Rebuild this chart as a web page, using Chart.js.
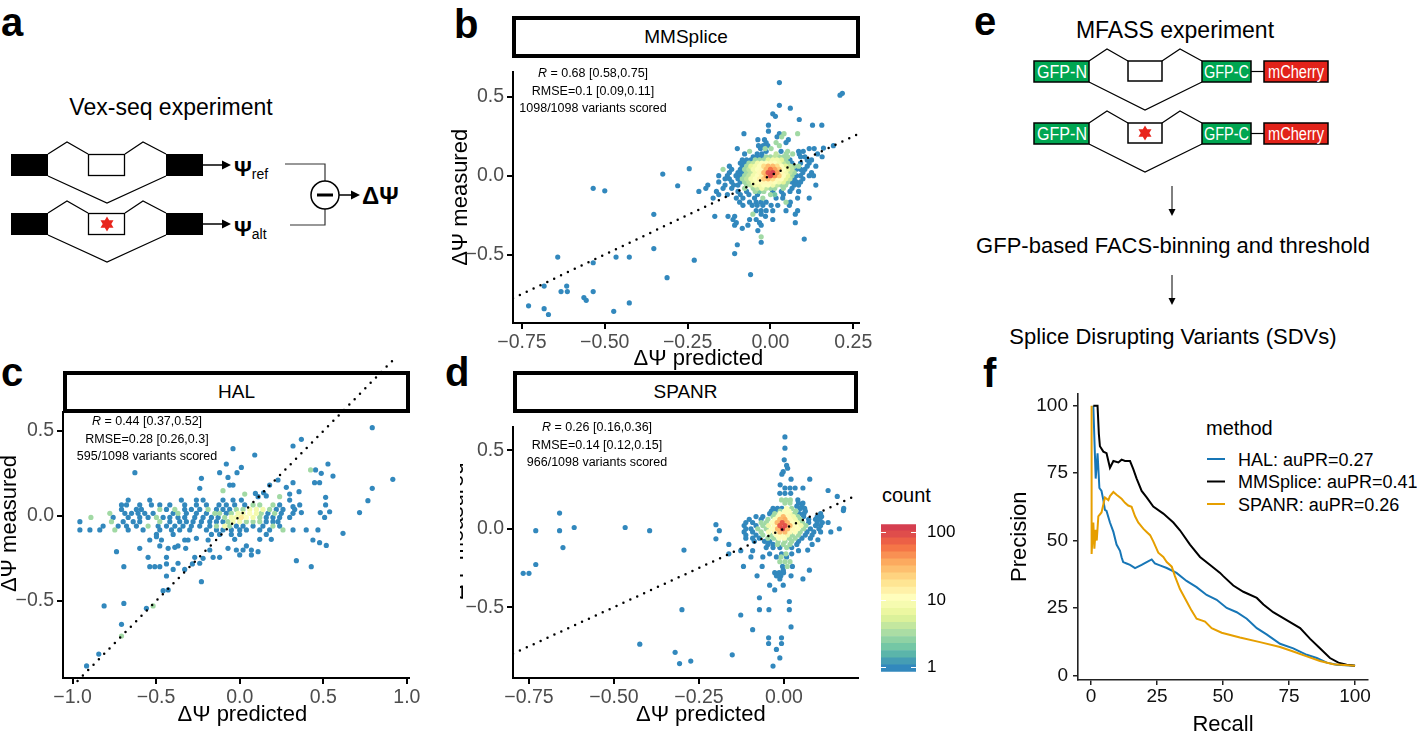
<!DOCTYPE html>
<html>
<head>
<meta charset="utf-8">
<title>Splicing variant effect benchmarks</title>
<script src="https://cdn.jsdelivr.net/npm/chart.js@4.4.1/dist/chart.umd.min.js"></script>
<style>
  html, body { margin: 0; padding: 0; background: #fff; }
  body { position: relative; width: 1417px; height: 735px; overflow: hidden;
         font-family: "Liberation Sans", Arial, Helvetica, sans-serif; color: #000; }
  svg.sheet { position: absolute; left: 0; top: 0; z-index: 0; }
  canvas { position: absolute; z-index: 1; }
  .strip { position: absolute; box-sizing: border-box; height: 42px; border: 4px solid #000; background: #fff;
           font-size: 19px; line-height: 34px; text-align: center; z-index: 3; }
  .stats { position: absolute; font-size: 12.5px; line-height: 17.5px; text-align: center; white-space: nowrap;
           transform: translateX(-50%); z-index: 4; }
</style>
</head>
<body>

<svg class="sheet" width="1417" height="735" viewBox="0 0 1417 735" font-family="'Liberation Sans', Arial, sans-serif">
  <defs>
    <polygon id="star" fill="#E8251C" points="0,-7.5 2.2,-3.8 6.5,-3.8 4.3,0 6.5,3.8 2.2,3.8 0,7.5 -2.2,3.8 -6.5,3.8 -4.3,0 -6.5,-3.8 -2.2,-3.8"/>
  </defs>

  <!-- panel letters -->
  <g font-weight="bold" font-size="40">
    <text x="1" y="36">a</text>
    <text x="454" y="38">b</text>
    <text x="1" y="386">c</text>
    <text x="445" y="386">d</text>
    <text x="974" y="35">e</text>
    <text x="983" y="387">f</text>
  </g>

  <!-- a: Vex-seq -->
  <text x="171" y="115" font-size="23" text-anchor="middle">Vex-seq experiment</text>
  <g stroke="#000" stroke-width="1.2" fill="none">
    <polyline points="48,154 67,142 88,154"/>
    <polyline points="125,154 143,142 166,154"/>
    <polyline points="48,176 107,203 166,176"/>
    <polyline points="48,213 67,201 88,213"/>
    <polyline points="125,213 143,201 166,213"/>
    <polyline points="48,235 107,262 166,235"/>
  </g>
  <rect x="11" y="154" width="37" height="22" fill="#000"/>
  <rect x="166" y="154" width="37" height="22" fill="#000"/>
  <rect x="88.5" y="154.5" width="36" height="21" fill="#fff" stroke="#000" stroke-width="1.3"/>
  <rect x="11" y="213" width="37" height="22" fill="#000"/>
  <rect x="166" y="213" width="37" height="22" fill="#000"/>
  <rect x="88.5" y="213.5" width="36" height="21" fill="#fff" stroke="#000" stroke-width="1.3"/>
  <use href="#star" x="107" y="224"/>
  <line x1="203" y1="165" x2="223" y2="165" stroke="#000" stroke-width="1.5"/>
  <polygon points="222,160.5 231,165 222,169.5"/>
  <line x1="203" y1="224" x2="223" y2="224" stroke="#000" stroke-width="1.5"/>
  <polygon points="222,219.5 231,224 222,228.5"/>
  <text x="234" y="176" font-size="22" font-weight="bold">Ψ<tspan font-size="14" font-weight="normal" dy="3">ref</tspan></text>
  <text x="234" y="236" font-size="22" font-weight="bold">Ψ<tspan font-size="14" font-weight="normal" dy="3">alt</tspan></text>
  <polyline points="285,164 325,164 325,181" stroke="#333" stroke-width="1.2" fill="none"/>
  <polyline points="325,209 325,225 290,225" stroke="#333" stroke-width="1.2" fill="none"/>
  <circle cx="325" cy="195" r="14" fill="#fff" stroke="#000" stroke-width="1.5"/>
  <line x1="317" y1="195" x2="333" y2="195" stroke="#000" stroke-width="3"/>
  <line x1="339" y1="195" x2="352" y2="195" stroke="#000" stroke-width="1.5"/>
  <polygon points="351,190.5 360,195 351,199.5"/>
  <text x="362" y="204" font-size="24" font-weight="bold">ΔΨ</text>

  <!-- e: MFASS -->
  <text x="1175" y="38" font-size="23" text-anchor="middle">MFASS experiment</text>
  <g stroke="#000" stroke-width="1.2" fill="none">
    <polyline points="1089,61 1107,49 1128,61"/>
    <polyline points="1162,61 1180,49 1202,61"/>
    <polyline points="1089,82 1145,110 1202,82"/>
    <polyline points="1089,123 1107,111 1128,123"/>
    <polyline points="1162,123 1180,111 1202,123"/>
    <polyline points="1089,144 1145,172 1202,144"/>
    <line x1="1251" y1="71.5" x2="1264" y2="71.5"/>
    <line x1="1251" y1="133.5" x2="1264" y2="133.5"/>
  </g>
  <g stroke="#000" stroke-width="1.5">
    <rect x="1034" y="61" width="55" height="21" fill="#00A651"/>
    <rect x="1128" y="61" width="34" height="20" fill="#fff"/>
    <rect x="1202" y="61" width="49" height="21" fill="#00A651"/>
    <rect x="1264" y="61" width="64" height="21" fill="#E2231A"/>
    <rect x="1034" y="123" width="55" height="21" fill="#00A651"/>
    <rect x="1128" y="123" width="34" height="20" fill="#fff"/>
    <rect x="1202" y="123" width="49" height="21" fill="#00A651"/>
    <rect x="1264" y="123" width="64" height="21" fill="#E2231A"/>
  </g>
  <g fill="#fff" font-size="18">
    <text x="1037" y="78" textLength="50" lengthAdjust="spacingAndGlyphs">GFP-N</text>
    <text x="1204" y="78" textLength="45" lengthAdjust="spacingAndGlyphs">GFP-C</text>
    <text x="1268" y="78" textLength="56" lengthAdjust="spacingAndGlyphs">mCherry</text>
    <text x="1037" y="140" textLength="50" lengthAdjust="spacingAndGlyphs">GFP-N</text>
    <text x="1204" y="140" textLength="45" lengthAdjust="spacingAndGlyphs">GFP-C</text>
    <text x="1268" y="140" textLength="56" lengthAdjust="spacingAndGlyphs">mCherry</text>
  </g>
  <use href="#star" x="1145" y="133"/>
  <line x1="1172" y1="186" x2="1172" y2="210" stroke="#000" stroke-width="1"/>
  <polygon points="1168.5,209 1175.5,209 1172,216"/>
  <text x="1173" y="253" font-size="22" text-anchor="middle">GFP-based FACS-binning and threshold</text>
  <line x1="1172" y1="275" x2="1172" y2="299" stroke="#000" stroke-width="1"/>
  <polygon points="1168.5,298 1175.5,298 1172,305"/>
  <text x="1173" y="344" font-size="22" text-anchor="middle">Splice Disrupting Variants (SDVs)</text>

  <!-- count colour bar title -->
  <text x="882" y="502" font-size="20">count</text>

  <!-- f legend -->
  <text x="1206" y="435" font-size="20">method</text>
  <g stroke-width="2">
    <line x1="1207" y1="459" x2="1225" y2="459" stroke="#1776B6"/>
    <line x1="1207" y1="481.5" x2="1225" y2="481.5" stroke="#000"/>
    <line x1="1207" y1="504" x2="1225" y2="504" stroke="#E69F00"/>
  </g>
  <g font-size="18">
    <text x="1238" y="465.5">HAL: auPR=0.27</text>
    <text x="1238" y="488">MMSplice: auPR=0.41</text>
    <text x="1238" y="510.5">SPANR: auPR=0.26</text>
  </g>
</svg>

<div class="strip" style="left:512px; top:16px; width:348px; z-index:3">MMSplice</div>
<div class="strip" style="left:63px; top:371px; width:347px; z-index:0">HAL</div>
<div class="strip" style="left:513px; top:371px; width:345px; z-index:3">SPANR</div>

<div class="stats" style="left:593px; top:65px"><i>R</i> = 0.68 [0.58,0.75]<br>RMSE=0.1 [0.09,0.11]<br>1098/1098 variants scored</div>
<div class="stats" style="left:147px; top:413px"><i>R</i> = 0.44 [0.37,0.52]<br>RMSE=0.28 [0.26,0.3]<br>595/1098 variants scored</div>
<div class="stats" style="left:597px; top:419px"><i>R</i> = 0.26 [0.16,0.36]<br>RMSE=0.14 [0.12,0.15]<br>966/1098 variants scored</div>

<canvas id="mmsplice" width="434" height="323" style="left:440px; top:57px"></canvas>
<canvas id="hal" width="422" height="380" style="left:0px; top:355px"></canvas>
<canvas id="spanr" width="404" height="323" style="left:460px; top:412px"></canvas>
<canvas id="countbar" width="75" height="190" style="left:881px; top:503px"></canvas>
<canvas id="prcurve" width="427" height="363" style="left:990px; top:377px"></canvas>

<script>
// hex bins: [ΔΨ predicted, ΔΨ measured, count]
const mmspliceBins = [
  [0.027,0.59,1],[0.21,0.51,1],[0.217,0.522,1],[0.027,0.446,1],[0.06,0.428,1],[0.007,0.392,1],[0.015,0.376,1],
  [0.087,0.356,1],[-0.006,0.32,1],[0.127,0.32,1],[0.155,0.32,1],[-0.006,0.282,1],[-0.08,0.266,1],[0.027,0.266,1],
  [0.041,0.266,3],[0.082,0.266,3],[0.02,0.246,1],[0.034,0.246,3],[-0.038,0.228,1],[-0.018,0.228,1],[0.054,0.228,1],
  [-0.013,0.21,1],[0.017,0.21,3],[0.047,0.21,1],[0.19,0.19,1],[0.16,0.175,1],[-0.036,0.19,1],[-0.022,0.19,1],
  [-0.008,0.19,1],[0.027,0.19,3],[-0.1,0.172,1],[0.117,0.172,1],[0.132,0.172,1],[-0.03,0.172,1],[-0.016,0.172,3],
  [0.002,0.172,3],[-0.063,0.154,3],[-0.013,0.154,1],[0.032,0.154,1],[0.052,0.154,3],[0.085,0.154,1],[0.099,0.154,1],
  [0.142,0.138,1],[-0.078,0.138,1],[-0.04,0.138,1],[-0.026,0.138,1],[0.017,0.138,4],[0.047,0.138,3],[0.067,0.138,3],[0.087,0.138,1],
  [-0.052,0.12,1],[-0.039,0.12,1],[-0.026,0.12,1],[-0.013,0.12,3],[0,0.12,3],[0.013,0.12,4],[0.026,0.12,3],[0.039,0.12,3],
  [0.052,0.12,3],[0.091,0.12,1],[0.104,0.12,1],[0.156,0.12,1],
  [-0.085,0.1,1],[-0.072,0.1,1],[-0.059,0.1,1],[-0.046,0.1,3],[-0.033,0.1,3],[-0.02,0.1,3],[-0.007,0.1,6],[0.007,0.1,8],
  [0.02,0.1,8],[0.033,0.1,6],[0.046,0.1,3],[0.059,0.1,1],[0.111,0.1,1],[0.124,0.1,1],
  [-0.091,0.08,1],[-0.078,0.08,1],[-0.065,0.08,3],[-0.052,0.08,4],[-0.039,0.08,8],[-0.026,0.08,10],[-0.013,0.08,10],[0,0.08,12],
  [0.013,0.08,10],[0.026,0.08,8],[0.039,0.08,4],[0.052,0.08,3],[0.065,0.08,1],[0.091,0.08,1],[0.117,0.08,1],
  [-0.124,0.06,1],[-0.085,0.06,1],[-0.072,0.06,3],[-0.059,0.06,6],[-0.046,0.06,8],[-0.033,0.06,10],[-0.02,0.06,20],[-0.007,0.06,30],
  [0.007,0.06,30],[0.02,0.06,20],[0.033,0.06,10],[0.046,0.06,6],[0.059,0.06,4],[0.072,0.06,3],[0.085,0.06,3],[0.111,0.06,1],[0.137,0.06,1],
  [-0.143,0.04,3],[-0.117,0.04,1],[-0.091,0.04,1],[-0.078,0.04,3],[-0.065,0.04,4],[-0.052,0.04,8],[-0.039,0.04,10],[-0.026,0.04,12],
  [-0.013,0.04,30],[0,0.04,60],[0.013,0.04,40],[0.026,0.04,25],[0.039,0.04,10],[0.052,0.04,6],[0.065,0.04,4],[0.078,0.04,1],[0.091,0.04,1],[0.104,0.04,1],
  [-0.124,0.02,1],[-0.098,0.02,1],[-0.085,0.02,1],[-0.072,0.02,3],[-0.059,0.02,4],[-0.046,0.02,8],[-0.033,0.02,12],[-0.02,0.02,30],
  [-0.007,0.02,90],[0.007,0.02,110],[0.02,0.02,40],[0.033,0.02,12],[0.046,0.02,8],[0.059,0.02,4],[0.072,0.02,3],[0.098,0.02,1],[0.124,0.02,1],
  [-0.156,0,1],[-0.13,0,1],[-0.104,0,1],[-0.091,0,1],[-0.078,0,3],[-0.065,0,4],[-0.052,0,8],[-0.039,0,10],[-0.026,0,14],[-0.013,0,35],
  [0,0,100],[0.013,0,45],[0.026,0,25],[0.039,0,10],[0.052,0,6],[0.065,0,3],[0.078,0,1],[0.091,0,1],[0.117,0,1],[0.13,0,1],
  [-0.137,-0.02,1],[-0.124,-0.02,1],[-0.098,-0.02,1],[-0.085,-0.02,3],[-0.072,-0.02,4],[-0.059,-0.02,8],[-0.046,-0.02,10],[-0.033,-0.02,14],
  [-0.02,-0.02,25],[-0.007,-0.02,30],[0.007,-0.02,20],[0.02,-0.02,12],[0.033,-0.02,10],[0.046,-0.02,6],[0.059,-0.02,4],[0.072,-0.02,1],[0.098,-0.02,1],
  [-0.156,-0.04,1],[-0.117,-0.04,1],[-0.091,-0.04,1],[-0.078,-0.04,3],[-0.065,-0.04,4],[-0.052,-0.04,8],[-0.039,-0.04,10],[-0.026,-0.04,12],
  [-0.013,-0.04,12],[0,-0.04,12],[0.013,-0.04,10],[0.026,-0.04,8],[0.039,-0.04,6],[0.052,-0.04,3],[0.065,-0.04,1],[0.078,-0.04,1],[0.091,-0.04,1],
  [-0.189,-0.06,1],[-0.137,-0.06,1],[-0.111,-0.06,1],[-0.098,-0.06,1],[-0.072,-0.06,3],[-0.059,-0.06,4],[-0.046,-0.06,8],[-0.033,-0.06,8],
  [-0.02,-0.06,10],[-0.007,-0.06,10],[0.007,-0.06,8],[0.02,-0.06,4],[0.033,-0.06,3],[0.046,-0.06,3],[0.072,-0.06,1],[0.085,-0.06,1],[0.137,-0.06,1],
  [-0.195,-0.08,1],[-0.143,-0.08,1],[-0.117,-0.08,1],[-0.078,-0.08,3],[-0.052,-0.08,3],[-0.039,-0.08,4],[-0.026,-0.08,8],[-0.013,-0.08,4],
  [0,-0.08,3],[0.013,-0.08,3],[0.039,-0.08,3],[0.065,-0.08,1],
  [-0.163,-0.1,1],[-0.098,-0.1,1],[-0.072,-0.1,1],[-0.046,-0.1,3],[-0.033,-0.1,2],[-0.02,-0.1,3],[0.007,-0.1,1],[0.033,-0.1,1],[0.059,-0.1,1],[0.085,-0.1,1],
  [-0.156,-0.12,1],[-0.13,-0.12,1],[-0.091,-0.12,1],[-0.065,-0.12,1],[-0.039,-0.12,1],[0,-0.12,3],[0.013,-0.12,2],[0.039,-0.12,1],
  [-0.173,-0.142,1],[-0.103,-0.142,1],[-0.083,-0.142,1],[-0.048,-0.142,1],[-0.023,-0.142,3],[0.017,-0.142,1],[0.037,-0.142,1],[0.082,-0.142,1],[0.117,-0.142,1],
  [-0.093,-0.168,1],[-0.063,-0.168,1],[-0.043,-0.168,1],[-0.028,-0.168,1],[-0.013,-0.168,1],[0.047,-0.168,3],[0.06,-0.168,1],
  [-0.083,-0.188,1],[-0.055,-0.188,1],[-0.04,-0.188,1],[-0.023,-0.188,1],[0.002,-0.188,1],[0.022,-0.188,1],[0.057,-0.188,1],
  [-0.043,-0.222,1],[-0.028,-0.222,1],[-0.013,-0.222,1],[0.007,-0.222,1],[0.047,-0.222,1],[0.082,-0.222,1],
  [-0.053,-0.244,3],[-0.028,-0.244,1],[0.075,-0.244,1],[-0.168,-0.258,1],[-0.128,-0.258,1],[-0.108,-0.258,1],[-0.015,-0.258,1],
  [-0.113,-0.278,1],[-0.063,-0.278,1],[-0.043,-0.278,1],[0.007,-0.278,1],[-0.103,-0.298,1],[-0.033,-0.298,1],[0.075,-0.298,1],
  [-0.108,-0.314,1],[-0.068,-0.314,1],[-0.028,-0.314,1],[-0.085,-0.334,1],[-0.038,-0.348,1],[-0.028,-0.388,3],[0.102,-0.402,1],
  [-0.028,-0.422,1],[-0.1,-0.438,1],[-0.108,-0.494,1],
  [-0.245,0.044,1],[-0.325,0.01,1],[-0.535,-0.08,1],[-0.5,-0.096,1],[-0.28,-0.064,1],[-0.216,-0.1,1],[-0.352,-0.245,1],
  [-0.06,-0.627,1],[-0.23,-0.536,1],[-0.312,-0.647,1],[-0.352,-0.462,1],[-0.466,-0.516,1],[-0.426,-0.516,1],[-0.642,-0.516,1],
  [-0.535,-0.552,1],[-0.683,-0.7,1],[-0.615,-0.7,1],[-0.632,-0.735,1],[-0.613,-0.735,1],[-0.535,-0.735,1],[-0.563,-0.773,1],
  [-0.556,-0.79,1],[-0.426,-0.807,1],[-0.73,-0.825,1],[-0.683,-0.843,1],[-0.67,-0.88,1],[-0.473,-0.86,1]
];

const halBins = [
  [-0.667,0.094,1],[-0.538,0.094,1],[-0.349,0.094,1],[-0.259,0.094,1],[-0.219,0.094,1],[-0.1,0.094,1],[-0.04,0.094,1],[0.01,0.094,1],[0.299,0.094,1],
  [-0.707,0.065,1],[-0.677,0.065,1],[-0.598,0.065,1],[-0.528,0.065,1],[-0.478,0.065,1],[-0.418,0.065,1],[-0.329,0.065,1],[-0.259,0.065,1],
  [-0.199,0.065,1],[-0.124,0.065,1],[-0.08,0.065,1],[-0.03,0.065,1],[0.03,0.065,1],[0.08,0.065,3],[0.12,0.065,3],[0.199,0.065,3],[0.239,0.065,1],[0.359,0.065,1],
  [-0.707,0.039,1],[-0.618,0.039,1],[-0.588,0.039,1],[-0.478,0.039,3],[-0.438,0.039,1],[-0.388,0.039,3],[-0.329,0.039,1],[-0.289,0.039,1],
  [-0.239,0.039,1],[-0.189,0.039,3],[-0.139,0.039,1],[-0.1,0.039,1],[-0.06,0.039,1],[-0.02,0.039,3],[0.02,0.039,3],[0.06,0.039,8],
  [0.1,0.039,8],[0.139,0.039,8],[0.179,0.039,3],[0.219,0.039,1],[0.259,0.039,1],[0.329,0.039,1],
  [-0.777,0.016,3],[-0.687,0.016,1],[-0.647,0.016,1],[-0.608,0.016,1],[-0.568,0.016,1],[-0.518,0.016,1],[-0.398,0.016,1],[-0.369,0.016,3],
  [-0.319,0.016,1],[-0.259,0.016,1],[-0.199,0.016,1],[-0.149,0.016,3],[-0.12,0.016,3],[-0.08,0.016,1],[-0.05,0.016,3],[-0.01,0.016,8],
  [0.02,0.016,8],[0.06,0.016,10],[0.1,0.016,8],[0.129,0.016,3],[0.169,0.016,1],[0.209,0.016,3],[0.249,0.016,1],[0.319,0.016,1],
  [-0.89,-0.008,3],[-0.757,-0.008,1],[-0.667,-0.008,1],[-0.598,-0.008,1],[-0.548,-0.008,1],[-0.498,-0.008,3],[-0.458,-0.008,1],[-0.418,-0.008,1],
  [-0.369,-0.008,1],[-0.329,-0.008,1],[-0.269,-0.008,1],[-0.219,-0.008,1],[-0.169,-0.008,1],[-0.129,-0.008,1],[-0.09,-0.008,3],[-0.05,-0.008,8],
  [-0.02,-0.008,8],[0.01,-0.008,16],[0.04,-0.008,10],[0.08,-0.008,8],[0.12,-0.008,3],[0.159,-0.008,1],[0.199,-0.008,1],[0.239,-0.008,1],[0.299,-0.008,1],
  [-0.956,-0.033,1],[-0.767,-0.033,3],[-0.697,-0.033,1],[-0.637,-0.033,1],[-0.598,-0.033,1],[-0.478,-0.033,3],[-0.418,-0.033,1],[-0.359,-0.033,1],
  [-0.319,-0.033,1],[-0.279,-0.033,1],[-0.229,-0.033,1],[-0.179,-0.033,1],[-0.139,-0.033,1],[-0.1,-0.033,1],[-0.07,-0.033,3],[-0.04,-0.033,8],
  [0,-0.033,8],[0.04,-0.033,3],[0.08,-0.033,3],[0.12,-0.033,3],[0.159,-0.033,1],[0.199,-0.033,1],[0.229,-0.033,1],
  [-0.817,-0.059,1],[-0.727,-0.059,1],[-0.677,-0.059,1],[-0.618,-0.059,1],[-0.548,-0.059,3],[-0.488,-0.059,1],[-0.438,-0.059,1],[-0.388,-0.059,1],
  [-0.339,-0.059,1],[-0.289,-0.059,1],[-0.239,-0.059,1],[-0.179,-0.059,1],[-0.139,-0.059,3],[-0.09,-0.059,8],[-0.06,-0.059,3],[-0.02,-0.059,1],
  [0.02,-0.059,1],[0.08,-0.059,1],[0.139,-0.059,1],[0.199,-0.059,3],[0.239,-0.059,1],
  [-0.956,-0.082,1],[-0.896,-0.082,1],[-0.837,-0.082,1],[-0.747,-0.082,3],[-0.667,-0.082,1],[-0.578,-0.082,1],[-0.478,-0.082,1],[-0.408,-0.082,1],
  [-0.359,-0.082,1],[-0.299,-0.082,1],[-0.199,-0.082,1],[-0.139,-0.082,1],[-0.1,-0.082,1],[-0.05,-0.082,1],[0,-0.082,1],[0.04,-0.082,1],
  [0.12,-0.082,1],[0.179,-0.082,1],[0.259,-0.082,3],[0.319,-0.082,1],[0.398,-0.082,1],[0.468,-0.082,1],
  [-0.498,-0.108,1],[-0.398,-0.108,1],[-0.169,-0.108,1],[-0.12,-0.108,1],[-0.05,-0.108,1],[0,-0.108,1],[0.159,-0.108,1],[0.618,-0.102,1],
  [0.793,0.52,1],[0.369,0.451,1],[0.319,0.412,1],[-0.04,0.396,1],[0.09,0.359,1],[-0.08,0.306,1],[0.01,0.286,1],[-0.627,0.255,1],
  [-0.12,0.255,1],[-0.07,0.227,1],[-0.016,0.255,1],[-0.229,0.222,1],[-0.239,0.163,1],[-0.06,0.182,1],[-0.04,0.182,1],[0.528,0.306,1],
  [0.424,0.271,3],[0.454,0.271,1],[0.488,0.251,1],[0.558,0.235,1],[0.448,0.196,1],[0.478,0.196,1],[0.319,0.196,1],[0.279,0.169,1],
  [0.229,0.212,1],[0.179,0.182,1],[0.793,0.163,1],[0.916,0.216,1],[0.767,0.09,1],[0.717,0.02,1],[0.514,0.11,1],[0.514,0.065,1],
  [0.482,0.02,1],[0.369,0.02,1],[0.319,0.055,1],[-0.1,0.149,3],[0.03,0.129,3],[0.094,0.133,1],[0.11,0.114,1],[0.143,0.137,1],
  [0.159,0.118,1],[0.239,0.114,3],[0.299,0.129,1],[0.355,0.143,1],[0.508,-0.008,1],[0.538,0.025,1],
  [0.339,-0.263,1],[0.428,-0.298,1],[0.438,-0.141,1],[0.478,-0.157,1],[0.518,-0.173,1],
  [-0.737,-0.21,1],[-0.693,-0.298,1],[-0.229,-0.386,1],[-0.811,-0.529,1],[-0.693,-0.514,1],[-0.558,-0.543,1],[-0.518,-0.529,3],
  [-0.458,-0.439,1],[-0.428,-0.435,1],[-0.707,-0.637,1],[-0.707,-0.706,3],[-0.843,-0.812,1],[-0.916,-0.882,1],
  [-0.538,-0.141,1],[-0.498,-0.122,1],[-0.468,-0.141,1],[-0.309,-0.141,1],[-0.259,-0.131,1],[-0.189,-0.141,1],[-0.478,-0.176,1],
  [-0.369,-0.176,1],[-0.329,-0.141,1],[-0.03,-0.137,1],[0.04,-0.176,1],[0.12,-0.137,1],[0.189,-0.137,1],[-0.598,-0.19,1],
  [-0.428,-0.19,1],[-0.388,-0.184,1],[-0.323,-0.19,1],[-0.179,-0.2,1],[-0.07,-0.19,1],[-0.02,-0.2,1],[0.02,-0.2,1],[0.07,-0.2,1],
  [-0.548,-0.243,1],[-0.438,-0.243,1],[-0.269,-0.243,1],[-0.219,-0.249,1],[-0.159,-0.243,1],[-0.12,-0.243,1],[0,-0.229,1],
  [0.07,-0.229,1],[0.11,-0.21,1],[-0.438,-0.282,1],[-0.369,-0.278,1],[-0.398,-0.314,1],[-0.283,-0.282,1],[-0.538,-0.298,1],
  [-0.508,-0.298,1],[-0.478,-0.298,1],[-0.329,-0.314,1],[-0.438,-0.353,1],[-0.239,-0.278,1]
];

const spanrBins = [
  [0.003,0.586,1],[0.003,0.514,1],[0.001,0.44,1],[0.008,0.404,1],[0.011,0.386,1],[-0.002,0.364,1],[-0.006,0.348,1],[0.021,0.316,1],
  [0.076,0.316,1],[-0.011,0.28,1],[0.003,0.26,1],[0.018,0.26,1],[0.033,0.26,1],[0.056,0.26,1],[0.13,0.244,1],[-0.012,0.226,1],
  [0.003,0.226,1],[0.02,0.226,1],[0.157,0.206,1],
  [-0.007,0.184,3],[0.006,0.184,3],[0.019,0.184,3],[0.041,0.184,1],[0.003,0.164,3],[0.018,0.164,3],[0.043,0.164,1],[0.056,0.164,1],
  [0.038,0.144,1],[0.053,0.144,1],
  [-0.032,0.13,1],[-0.019,0.13,1],[-0.006,0.13,1],[0.008,0.13,10],[0.023,0.13,3],[0.048,0.13,1],[0.061,0.13,1],[0.176,0.13,1],
  [-0.037,0.112,1],[-0.024,0.112,1],[-0.011,0.112,3],[0.002,0.112,10],[0.015,0.112,10],[0.035,0.112,3],[0.063,0.112,1],
  [-0.042,0.096,1],[-0.027,0.096,3],[-0.012,0.096,10],[0.003,0.096,10],[0.018,0.096,8],[0.031,0.096,3],[0.046,0.096,1],[0.059,0.096,1],[0.108,0.096,1],
  [-0.082,0.078,1],[-0.062,0.078,1],[-0.032,0.078,3],[-0.017,0.078,10],[-0.002,0.078,30],[0.013,0.078,12],[0.028,0.078,8],[0.041,0.078,3],
  [0.058,0.078,1],[0.098,0.078,1],[0.111,0.078,1],
  [-0.102,0.06,1],[-0.067,0.06,1],[-0.047,0.06,3],[-0.027,0.06,10],[-0.012,0.06,30],[0.003,0.06,35],[0.018,0.06,12],[0.033,0.06,8],
  [0.048,0.06,3],[0.073,0.06,1],[0.093,0.06,1],[0.106,0.06,1],
  [-0.112,0.04,1],[-0.092,0.04,1],[-0.067,0.04,3],[-0.052,0.04,3],[-0.035,0.04,10],[-0.02,0.04,30],[-0.005,0.04,80],[0.01,0.04,30],
  [0.025,0.04,10],[0.04,0.04,8],[0.055,0.04,3],[0.073,0.04,1],[0.098,0.04,1],[0.113,0.04,1],[0.13,0.04,1],
  [-0.117,0.02,1],[-0.082,0.02,1],[-0.062,0.02,3],[-0.045,0.02,8],[-0.028,0.02,12],[-0.012,0.02,80],[0.003,0.02,90],[0.018,0.02,30],
  [0.033,0.02,10],[0.05,0.02,8],[0.065,0.02,3],[0.093,0.02,1],[0.108,0.02,1],
  [-0.112,0,1],[-0.097,0,1],[-0.077,0,3],[-0.052,0,3],[-0.035,0,10],[-0.019,0,30],[-0.004,0,100],[0.011,0,30],[0.026,0,12],
  [0.041,0,10],[0.058,0,3],[0.078,0,1],[0.103,0,1],[0.163,0,1],
  [-0.117,-0.02,1],[-0.092,-0.02,1],[-0.067,-0.02,3],[-0.045,-0.02,10],[-0.028,-0.02,12],[-0.012,-0.02,30],[0.003,-0.02,30],[0.018,-0.02,12],
  [0.033,-0.02,10],[0.048,-0.02,3],[0.068,-0.02,1],[0.088,-0.02,1],[0.108,-0.02,1],[0.138,-0.02,1],
  [-0.112,-0.04,1],[-0.082,-0.04,1],[-0.062,-0.04,3],[-0.04,-0.04,3],[-0.022,-0.04,10],[-0.006,-0.04,10],[0.01,-0.04,8],[0.025,-0.04,3],
  [0.043,-0.04,3],[0.063,-0.04,1],[0.083,-0.04,1],
  [-0.112,-0.06,1],[-0.092,-0.06,1],[-0.072,-0.06,1],[-0.047,-0.06,3],[-0.03,-0.06,3],[-0.014,-0.06,10],[0.001,-0.06,10],[0.016,-0.06,3],
  [0.033,-0.06,3],[0.053,-0.06,1],[0.078,-0.06,1],
  [-0.087,-0.08,1],[-0.057,-0.08,1],[-0.042,-0.08,1],[-0.017,-0.08,3],[0.003,-0.08,3],[0.023,-0.08,3],[0.043,-0.08,1],
  [-0.162,-0.1,1],[-0.047,-0.1,1],[-0.032,-0.1,1],[-0.019,-0.1,3],[-0.002,-0.1,3],[0.018,-0.1,3],[0.038,-0.1,1],[0.083,-0.1,1],
  [-0.052,-0.12,1],[-0.032,-0.12,1],[-0.012,-0.12,1],[0.008,-0.12,3],[0.023,-0.12,1],
  [-0.127,-0.14,1],[-0.092,-0.14,1],[0.043,-0.14,1],[0.07,-0.136,1],[0.1,-0.07,1],
  [-0.162,-0.16,1],[-0.042,-0.16,1],[-0.007,-0.16,1],[0.006,-0.16,3],[0.023,-0.16,1],
  [-0.097,-0.18,1],[-0.062,-0.18,1],[-0.022,-0.18,1],[-0.008,-0.18,3],[0.008,-0.18,1],
  [-0.012,-0.21,3],[0.003,-0.21,3],[0.018,-0.21,3],
  [-0.119,-0.24,1],[-0.064,-0.24,1],[-0.004,-0.24,1],[0.01,-0.24,3],[0.025,-0.24,1],[-0.002,-0.264,1],[0.075,-0.264,1],
  [-0.027,-0.28,1],[-0.014,-0.28,1],[-0.001,-0.28,1],[-0.079,-0.3,1],[-0.022,-0.3,1],[-0.009,-0.3,1],[0.021,-0.3,1],
  [-0.012,-0.32,1],[0.056,-0.32,1],[-0.042,-0.36,1],[-0.002,-0.36,1],[-0.027,-0.39,1],[-0.072,-0.44,1],[0.016,-0.464,1],
  [-0.072,-0.516,1],[-0.044,-0.516,1],[0.016,-0.516,1],
  [-0.66,0.1,1],[-0.73,-0.012,1],[-0.66,-0.012,1],[-0.617,0.008,1],[-0.467,0.008,1],[-0.395,-0.012,1],[-0.65,-0.12,1],[-0.73,-0.228,1],
  [-0.767,-0.284,1],[-0.75,-0.284,1],[-0.294,-0.136,1],[-0.3,-0.516,1],[-0.424,-0.736,1],[-0.32,-0.788,1],[-0.307,-0.86,1],
  [-0.274,-0.844,1],[-0.152,-0.804,1],[-0.127,-0.55,1],[-0.092,-0.644,1],[-0.045,-0.696,1],[-0.045,-0.732,1],[-0.007,-0.696,1],
  [-0.007,-0.732,1],[-0.022,-0.77,1],[-0.012,-0.824,1],[-0.032,-0.876,1],[0.021,-0.626,1],[-0.2,0.026,1],[-0.19,-0.012,1],
  [-0.2,-0.064,1],[0.175,0.116,1]
];

// dotted y = x reference line, start and end on the predicted axis
const mmspliceDiagonal = [-0.777, 0.268];
const halDiagonal = [-0.97, 0.92];
const spanrDiagonal = [-0.797, 0.21];

const measuredTicks = [-0.5, 0, 0.5];
const mmspliceTicks = [-0.75, -0.5, -0.25, 0, 0.25];
const halTicks = [-1, -0.5, 0, 0.5, 1];
const spanrTicks = [-0.75, -0.5, -0.25, 0];

// precision-recall curves (%)
const halRecall = [0.9,1.8,2.5,3.2,4,4.7,5.3,5.9,7.2,8.5,9.7,11,11.6,12.2,13.5,14.8,16.7,19.2,21.1,23,
                   24.2,26.1,28.7,32.4,36.2,40,43.8,47.6,51.4,55.2,59,62.8,66.5,71.6,76.6,81.7,85.5,89.3,93,100];
const halPrecision = [100,73,82.4,69.5,68.4,65,61.4,61,56.7,53.2,48.5,46.2,43.8,42,41.5,41,39.8,41,42,43,
                      41.5,40.8,39.8,38,35,32.7,29.8,28,25,23.4,21,17.5,15.2,11.7,10,7.6,6.4,4.7,3.9,3.5];
const mmspliceRecall = [0.9,2.5,3,3.4,4.7,5.9,7.2,8.5,10.4,11.6,12.9,14.8,16,17.3,19.2,21.1,23.6,27.4,31.2,33.7,
                        37.5,41.3,45,48.9,50.1,53.9,57.7,62.8,65.3,69,74.1,79.2,83,86.7,90.5,93.7,96.8,100];
const mmsplicePrecision = [100,100,89.5,85,83,82.4,77,79.5,79,80,79.5,79.5,76.6,73,68.4,66,62.6,60,56.7,53.8,
                           48.5,43.9,41,38,36.8,33.3,31,28.7,26.3,23.4,20.5,17.5,13.5,10,6.4,4.7,3.9,3.5];
const spanrRecall = [0.25,0.25,0.9,1.3,1.8,2.2,2.8,4,5.3,6.6,7.2,8.5,9.7,11.6,12.9,14.1,15.4,16.7,17.9,19.8,
                     21.1,22.4,23.6,25.5,27.4,28.7,30.6,31.8,33.7,36.2,38.1,40,43.2,45.7,49.5,56.4,64,71.6,76.6,81.7,86.7,91.8,100];
const spanrPrecision = [100,45,56.7,47,54,50,59,60.4,66,65,66.5,68,67,65.5,64,63,62.5,59,56.7,54.4,
                        53.2,52,49.7,45.5,43.9,42,40.3,36.8,32,27.5,24,21,19.9,17.5,15.8,14,12.3,10.5,8.8,7,5.3,4.1,3.5];
const percentTicks = [0, 25, 50, 75, 100];

// colour bar
const countBreaks = [0.87,1.1,1.4,1.8,2.3,2.9,3.7,4.7,6,7.6,9.7,12.3,15.7,20,25.4,32.3,41,52,66,84,107,134];
const countTicks = [1, 10, 100];

Chart.defaults.font.family = '"Liberation Sans", Arial, Helvetica, sans-serif';
Chart.defaults.color = '#000';

const spectral = [[50,136,189],[102,194,165],[171,221,164],[230,245,152],[255,255,191],
                  [254,224,139],[253,174,97],[244,109,67],[213,62,79]];
function countColor(n) {
  const t = Math.min(1, Math.max(0, Math.log(n) / Math.log(115)));
  const p = t * (spectral.length - 1);
  const i = Math.min(spectral.length - 2, Math.floor(p));
  const f = p - i;
  const c = spectral[i].map((v, k) => Math.round(v + (spectral[i + 1][k] - v) * f));
  return 'rgb(' + c.join(',') + ')';
}

function signed(v, dec) {
  return (v < 0 ? '\u2212' : '') + Math.abs(v).toFixed(dec);
}

function fixedTicks(list) {
  return scale => { scale.ticks = list.map(v => ({ value: v })); };
}

function deltaAxis(o) {
  return {
    type: 'linear', min: o.min, max: o.max,
    afterBuildTicks: fixedTicks(o.ticks),
    afterFit: o.size,
    ticks: { color: '#4D4D4D', font: { size: 19.5 }, padding: o.tickPad, maxRotation: 0, autoSkip: false,
             callback: v => signed(v, o.dec) },
    grid: { drawOnChartArea: false, color: '#000', lineWidth: 2, tickLength: 6 },
    border: { color: '#000', width: 2 },
    title: { display: true, text: o.title, color: '#000', font: { size: 22, lineHeight: 1 }, padding: o.titlePad }
  };
}

function hexPanel(id, bins, diagonal, cfg) {
  const sorted = bins.slice().sort((a, b) => a[2] - b[2]);
  return new Chart(document.getElementById(id), {
    type: 'scatter',
    data: {
      datasets: [
        {
          data: diagonal.map(v => ({ x: v, y: v })),
          showLine: true, borderColor: '#000', borderWidth: 2.5, borderDash: [0, 7.6], borderCapStyle: 'round',
          pointRadius: 0, clip: cfg.clipLine, order: 0
        },
        {
          data: sorted.map(b => ({ x: b[0], y: b[1] })),
          backgroundColor: sorted.map(b => countColor(b[2])),
          pointRadius: 2.6, pointHoverRadius: 2.6, borderWidth: 0, order: 1
        }
      ]
    },
    options: {
      responsive: false, animation: false, events: [], devicePixelRatio: 1,
      layout: { padding: { left: 0, top: cfg.padTop, right: cfg.padRight, bottom: 0 } },
      plugins: { legend: { display: false }, tooltip: { enabled: false } },
      scales: {
        x: deltaAxis({ min: cfg.x[0], max: cfg.x[1], ticks: cfg.xTicks, dec: cfg.xDec, tickPad: 1.5,
                       size: s => { s.height = 57; },
                       title: cfg.xTitle, titlePad: { top: 0, bottom: cfg.xTitlePad } }),
        y: deltaAxis({ min: cfg.y[0], max: cfg.y[1], ticks: measuredTicks, dec: 1, tickPad: 3,
                       size: s => { s.width = cfg.yAxisW; },
                       title: cfg.yTitle, titlePad: { top: cfg.yTitlePad, bottom: 0 } })
      }
    }
  });
}

hexPanel('mmsplice', mmspliceBins, mmspliceDiagonal, {
  x: [-0.777, 0.268], y: [-0.934, 0.659], xTicks: mmspliceTicks, xDec: 2,
  padTop: 0, padRight: 14, yAxisW: 73, clipLine: undefined,
  xTitle: '    ΔΨ predicted', xTitlePad: 10, yTitle: 'ΔΨ measured', yTitlePad: 10
});
hexPanel('hal', halBins, halDiagonal, {
  x: [-1.057, 1.015], y: [-0.953, 0.612], xTicks: halTicks, xDec: 1,
  padTop: 57, padRight: 12, yAxisW: 63, clipLine: false,
  xTitle: '  ΔΨ predicted', xTitlePad: 9, yTitle: '       ΔΨ measured', yTitlePad: -1
});
hexPanel('spanr', spanrBins, spanrDiagonal, {
  x: [-0.797, 0.218], y: [-0.952, 0.651], xTicks: spanrTicks, xDec: 2,
  padTop: 0, padRight: 6, yAxisW: 53, clipLine: undefined,
  xTitle: '     ΔΨ predicted', xTitlePad: 9, yTitle: '       ΔΨ measured', yTitlePad: -14
});

// count colour bar: one floating bar per colour band on a log axis
new Chart(document.getElementById('countbar'), {
  type: 'bar',
  data: {
    labels: ['count'],
    datasets: countBreaks.slice(0, -1).map((lo, i) => ({
      data: [[lo, countBreaks[i + 1]]],
      backgroundColor: countColor(Math.sqrt(lo * countBreaks[i + 1])),
      borderWidth: 0, barPercentage: 1, categoryPercentage: 1, grouped: false
    }))
  },
  options: {
    responsive: false, animation: false, events: [], devicePixelRatio: 1,
    layout: { padding: { left: 0, top: 10, right: 0, bottom: 10 } },
    plugins: { legend: { display: false }, tooltip: { enabled: false } },
    scales: {
      x: { display: false },
      y: {
        type: 'logarithmic', position: 'right', min: 0.87, max: 134,
        afterBuildTicks: fixedTicks(countTicks),
        afterFit: s => { s.width = 40; },
        ticks: { color: '#000', font: { size: 17 }, padding: 11, callback: v => String(v) },
        grid: { color: '#fff', lineWidth: 1, drawTicks: false, z: 1 },
        border: { display: false, dash: [5, 25] }
      }
    }
  }
});

function xy(xs, ys) { return xs.map((x, i) => ({ x: x, y: ys[i] })); }

function percentAxis(o) {
  return {
    type: 'linear', min: o.min, max: o.max,
    afterBuildTicks: fixedTicks(percentTicks),
    afterFit: o.size,
    ticks: { color: '#111', font: { size: 19 }, padding: o.tickPad, maxRotation: 0, autoSkip: false },
    grid: { drawOnChartArea: false, color: '#222', lineWidth: 1.5, tickLength: 5 },
    border: { color: '#222', width: 1.6 },
    title: { display: true, text: o.title, color: '#000', font: { size: 22, lineHeight: 1 }, padding: o.titlePad }
  };
}

new Chart(document.getElementById('prcurve'), {
  type: 'scatter',
  data: {
    datasets: [
      { label: 'HAL: auPR=0.27', data: xy(halRecall, halPrecision), showLine: true,
        borderColor: '#1776B6', borderWidth: 2, pointRadius: 0, order: 2 },
      { label: 'MMSplice: auPR=0.41', data: xy(mmspliceRecall, mmsplicePrecision), showLine: true,
        borderColor: '#000', borderWidth: 2, pointRadius: 0, order: 1 },
      { label: 'SPANR: auPR=0.26', data: xy(spanrRecall, spanrPrecision), showLine: true,
        borderColor: '#E69F00', borderWidth: 2, pointRadius: 0, order: 0 }
    ]
  },
  options: {
    responsive: false, animation: false, events: [], devicePixelRatio: 1,
    layout: { padding: { left: 0, top: 0, right: 49, bottom: 0 } },
    plugins: { legend: { display: false }, tooltip: { enabled: false } },
    scales: {
      x: percentAxis({ min: -4.9, max: 104.9, size: s => { s.height = 60; }, tickPad: 0,
                       title: 'Recall', titlePad: { top: 0, bottom: 4 } }),
      y: percentAxis({ min: -1.75, max: 104.6, size: s => { s.width = 88; }, tickPad: 5,
                       title: 'Precision', titlePad: { top: 19, bottom: 0 } })
    }
  }
});
</script>
</body>
</html>
